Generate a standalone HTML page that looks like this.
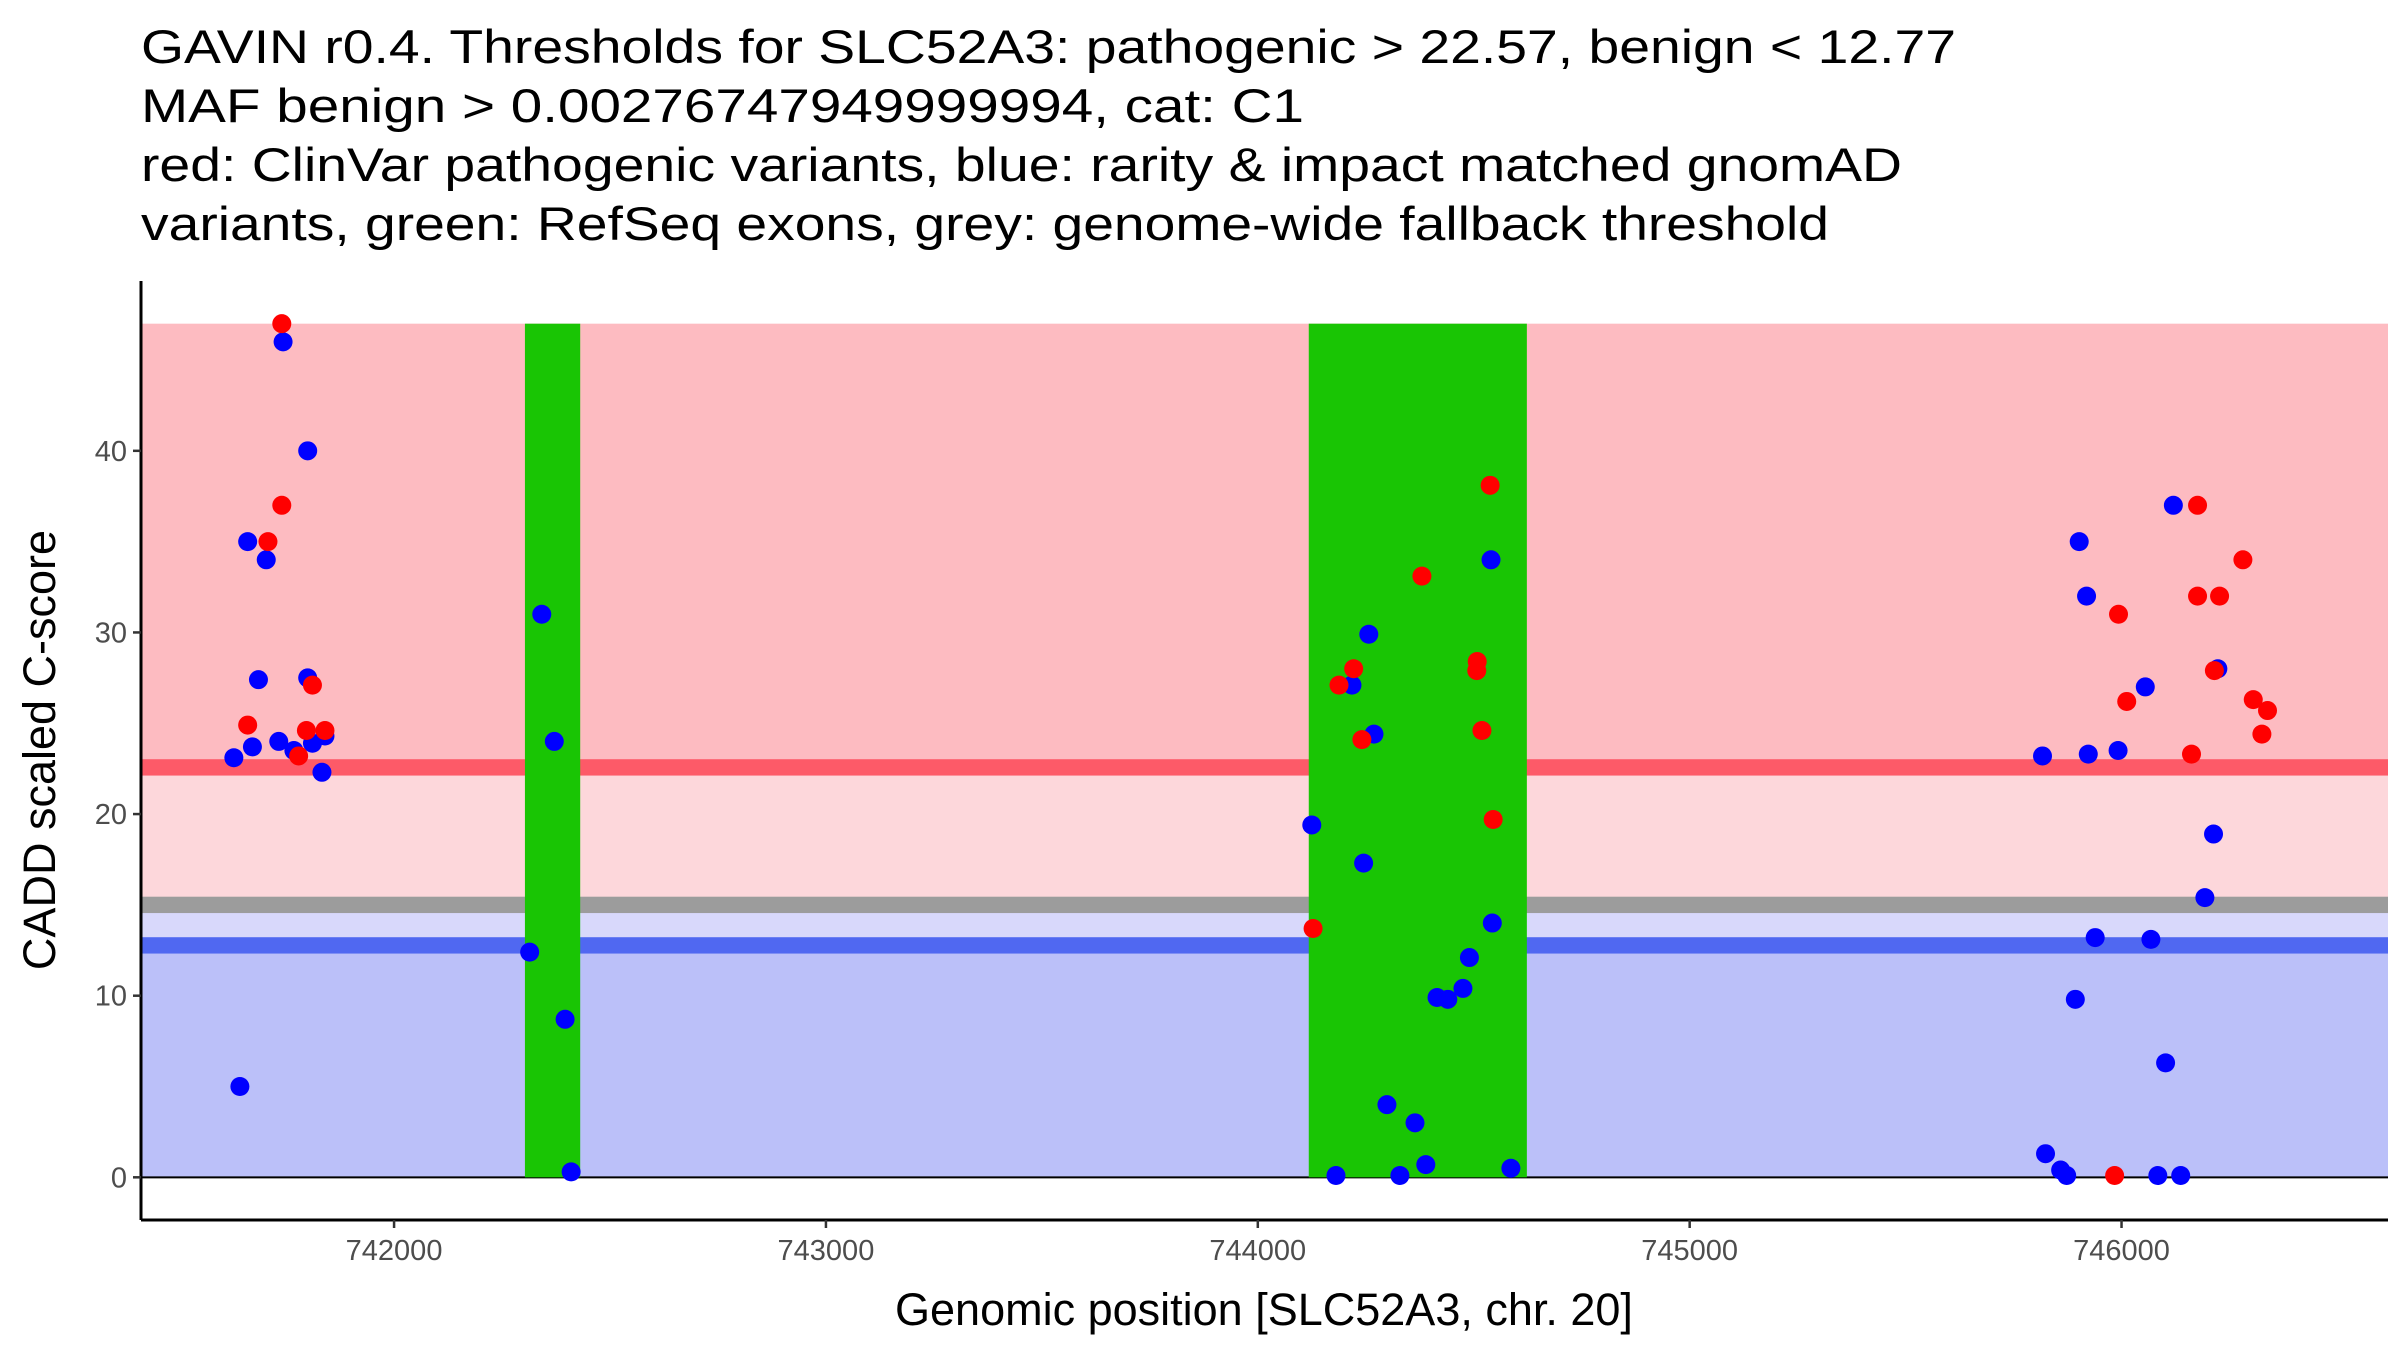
<!DOCTYPE html>
<html><head><meta charset="utf-8"><style>
html,body{margin:0;padding:0;background:#fff;}
svg{display:block;font-family:"Liberation Sans",Arial,sans-serif;}
</style></head><body>
<svg id="chart" width="2400" height="1350" viewBox="0 0 2400 1350" xmlns="http://www.w3.org/2000/svg">
<g font-size="47" fill="#000">
<text x="141" y="63" textLength="1815" lengthAdjust="spacingAndGlyphs">GAVIN r0.4. Thresholds for SLC52A3: pathogenic &gt; 22.57, benign &lt; 12.77</text>
<text x="141" y="122" textLength="1163" lengthAdjust="spacingAndGlyphs">MAF benign &gt; 0.00276747949999994, cat: C1</text>
<text x="141" y="181" textLength="1761" lengthAdjust="spacingAndGlyphs">red: ClinVar pathogenic variants, blue: rarity &amp; impact matched gnomAD</text>
<text x="141" y="240" textLength="1688" lengthAdjust="spacingAndGlyphs">variants, green: RefSeq exons, grey: genome-wide fallback threshold</text>
</g>
<g id="bands"></g>
<g id="exons"></g>
<g id="points"></g>
<g id="axes"></g>
<text x="1264" y="1325" font-size="45" text-anchor="middle" fill="#000">Genomic position [SLC52A3, chr. 20]</text>
<text x="0" y="0" font-size="45" text-anchor="middle" fill="#000" transform="translate(55,750) rotate(-90)">CADD scaled C-score</text>
</svg>
<script>
const xTicks = [742000, 743000, 744000, 745000, 746000];
const yTicks = [0, 10, 20, 30, 40];
const pathoThreshold = 22.57;
const benignThreshold = 12.77;
const fallbackThreshold = 15;
const maxScore = 47;
const exonStarts = [742303, 744118];
const exonEnds = [742431, 744623];
const benignX = [741743,741800,741661,741704,741686,741800,741672,741629,741733,741768,741811,741840,741833,741643,
742342,742371,742314,742396,742410,
744540,744257,744218,744269,744125,744245,744543,744490,744475,744415,744440,744299,744364,744389,744586,744181,744329,
746120,745902,745919,746223,746055,745817,745923,745992,746213,746193,745939,746068,745893,746102,745824,745859,745873,746084,746137];
const benignY = [46.0,40,35,34,27.4,27.5,23.7,23.1,24.0,23.5,23.9,24.3,22.3,5.0,
31.0,24.0,12.4,8.7,0.3,
34.0,29.9,27.1,24.4,19.4,17.3,14.0,12.1,10.4,9.9,9.8,4.0,3.0,0.7,0.5,0.1,0.1,
37.0,35.0,32.0,28.0,27.0,23.2,23.3,23.5,18.9,15.4,13.2,13.1,9.8,6.3,1.3,0.4,0.1,0.1,0.1];
const pathoX = [741740,741740,741708,741811,741661,741779,741797,741840,
744538,744380,744222,744188,744241,744508,744507,744519,744545,744128,
746176,746281,746176,746227,745993,746215,746012,746305,746338,746325,746162,745984];
const pathoY = [47.0,37,35,27.1,24.9,23.2,24.6,24.6,
38.1,33.1,28.0,27.1,24.1,28.4,27.9,24.6,19.7,13.7,
37.0,34.0,32.0,32.0,31.0,27.9,26.2,26.3,25.7,24.4,23.3,0.1];

const NS = "http://www.w3.org/2000/svg";
const plotL = 141, plotR = 2388, plotT = 281, plotB = 1220;
const xMin = 741414, xMax = 746617, yMin = -2.35, yMax = 49.35;
function sx(v){ return plotL + (v - xMin) / (xMax - xMin) * (plotR - plotL); }
function sy(v){ return plotB - (v - yMin) / (yMax - yMin) * (plotB - plotT); }
function mk(tag, attrs, parent){ const e = document.createElementNS(NS, tag); for (const k in attrs) e.setAttribute(k, attrs[k]); parent.appendChild(e); return e; }

const bands = document.getElementById('bands');
function band(y0, y1, color, name){
  const r = mk('rect', {x: plotL, width: plotR - plotL, y: sy(y1), height: sy(y0) - sy(y1), fill: color}, bands);
  
  
}
band(pathoThreshold, maxScore, '#FDBBC1', 'pathogenic-zone');
band(fallbackThreshold, pathoThreshold, '#FDD7DB', 'fallback-patho-zone');
band(benignThreshold, fallbackThreshold, '#D8D8FB', 'fallback-benign-zone');
band(0, benignThreshold, '#BBC0F9', 'benign-zone');
band(pathoThreshold - 0.45, pathoThreshold + 0.45, '#FD5A68', 'pathogenic-threshold-line');
band(fallbackThreshold - 0.45, fallbackThreshold + 0.45, '#9C9C9C', 'fallback-threshold-line');
band(benignThreshold - 0.45, benignThreshold + 0.45, '#5068F1', 'benign-threshold-line');
const zl = mk('line', {x1: plotL, x2: plotR, y1: sy(0), y2: sy(0), stroke: '#000', 'stroke-width': 2}, bands);



const exons = document.getElementById('exons');
for (let i = 0; i < exonStarts.length; i++) {
  const r = mk('rect', {x: sx(exonStarts[i]), width: sx(exonEnds[i]) - sx(exonStarts[i]), y: sy(maxScore), height: sy(0) - sy(maxScore), fill: '#19C504'}, exons);
  
  
}

const pts = document.getElementById('points');
for (let i = 0; i < benignX.length; i++) {
  const c = mk('ellipse', {cx: sx(benignX[i]), cy: sy(benignY[i]), rx: 9.5, ry: 9.5, fill: '#0000FF'}, pts);
  
  
}
for (let i = 0; i < pathoX.length; i++) {
  const c = mk('ellipse', {cx: sx(pathoX[i]), cy: sy(pathoY[i]), rx: 9.5, ry: 9.5, fill: '#FF0000'}, pts);
  
  
}

const axes = document.getElementById('axes');
const xa = mk('line', {x1: plotL, x2: plotR, y1: plotB, y2: plotB, stroke: '#000', 'stroke-width': 3}, axes);


const ya = mk('line', {x1: plotL, x2: plotL, y1: plotT, y2: plotB, stroke: '#000', 'stroke-width': 3}, axes);


xTicks.forEach(v => {
  const t = mk('line', {x1: sx(v), x2: sx(v), y1: plotB, y2: plotB + 8, stroke: '#333', 'stroke-width': 2.5}, axes);
  
  
  const l = mk('text', {x: sx(v), y: plotB + 40, 'font-size': 29, 'text-anchor': 'middle', fill: '#4D4D4D'}, axes);
  l.textContent = v;
  
  
});
yTicks.forEach(v => {
  const t = mk('line', {x1: plotL - 8, x2: plotL, y1: sy(v), y2: sy(v), stroke: '#333', 'stroke-width': 2.5}, axes);
  
  
  const l = mk('text', {x: plotL - 14, y: sy(v) + 10, 'font-size': 29, 'text-anchor': 'end', fill: '#4D4D4D'}, axes);
  l.textContent = v;
  
  
});
</script>
</body></html>
